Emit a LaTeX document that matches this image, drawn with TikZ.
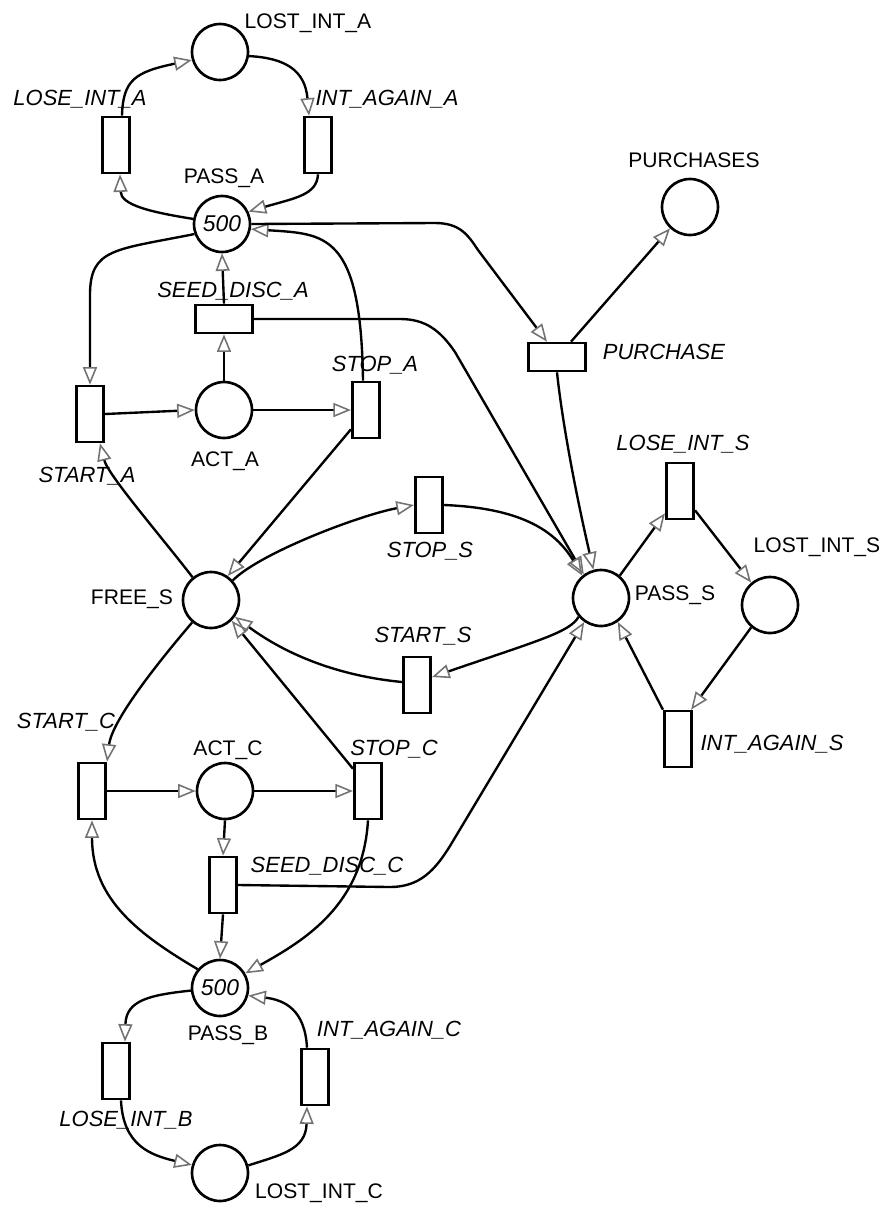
\documentclass[tikz,border=0pt]{standalone}
\usepackage{fontspec}
\setmainfont{Liberation Sans}
\usetikzlibrary{arrows.meta,calc}
\begin{document}
\begin{tikzpicture}[x=0.02cm,y=-0.02cm,
  place/.style={circle,draw,line width=1.5pt,minimum size=1.12cm,inner sep=0pt},
  vtrans/.style={rectangle,draw,line width=1.5pt,minimum width=0.55cm,minimum height=1.12cm,inner sep=0pt},
  htrans/.style={rectangle,draw,line width=1.5pt,minimum width=1.14cm,minimum height=0.56cm,inner sep=0pt},
  plab/.style={anchor=base,inner sep=0pt,font=\fontsize{12}{14}\selectfont},
  tlab/.style={anchor=base,inner sep=0pt,font=\fontsize{12.5}{14}\selectfont\itshape},
  tok/.style={font=\fontsize{13}{14}\selectfont\itshape},
  arc/.style={line width=1.35pt,-{Triangle[open,length=10pt,width=8pt,color=black!55,line width=0.9pt]}},
]
\useasboundingbox (0,0) rectangle (885,1205);
% places
\node[place] (lostA) at (220,52) {};
\node[place,tok] (passA) at (222,224) {500};
\node[place] (purchases) at (690,207) {};
\node[place] (actA) at (224,410) {};
\node[place] (freeS) at (211,600) {};
\node[place] (passS) at (601,598) {};
\node[place] (lostS) at (770,605) {};
\node[place] (actC) at (225,791) {};
\node[place,tok] (passB) at (220,988) {500};
\node[place] (lostC) at (220,1173) {};
% transitions
\node[vtrans] (loseA) at (116,145) {};
\node[vtrans] (intA) at (318,145) {};
\node[htrans] (seedA) at (224,319) {};
\node[vtrans] (startA) at (90,414) {};
\node[vtrans] (stopA) at (366,410) {};
\node[htrans] (purch) at (557,357) {};
\node[vtrans] (stopS) at (429,505) {};
\node[vtrans] (startS) at (417,685) {};
\node[vtrans] (loseS) at (680,491) {};
\node[vtrans] (intS) at (678,739) {};
\node[vtrans] (startC) at (92,791) {};
\node[vtrans] (stopC) at (368,791) {};
\node[vtrans] (seedC) at (223,885) {};
\node[vtrans] (loseB) at (116,1071) {};
\node[vtrans] (intC) at (315,1077) {};
% labels
\node[plab] (lLostA) at (308,28) {LOST\_INT\_A};
\node[plab] (lPassA) at (224,183) {PASS\_A};
\node[tlab] (lLoseA) at (80,105) {LOSE\_INT\_A};
\node[tlab] (lIntA) at (387,105) {INT\_AGAIN\_A};
\node[tlab] (lSeedA) at (233,297) {SEED\_DISC\_A};
\node[plab] (lPurchases) at (694,167) {PURCHASES};
\node[tlab] (lStopA) at (375,371) {STOP\_A};
\node[tlab] (lPurch) at (664,359) {PURCHASE};
\node[plab] (lActA) at (225,466) {ACT\_A};
\node[tlab] (lStartA) at (87,482) {START\_A};
\node[tlab] (lLoseS) at (683,450) {LOSE\_INT\_S};
\node[tlab] (lStopS) at (430,557) {STOP\_S};
\node[plab] (lLostS) at (817,552) {LOST\_INT\_S};
\node[plab] (lFreeS) at (132,604) {FREE\_S};
\node[plab] (lPassS) at (675,600) {PASS\_S};
\node[tlab] (lStartS) at (423,642) {START\_S};
\node[tlab] (lStartC) at (66,728) {START\_C};
\node[plab] (lActC) at (228,755) {ACT\_C};
\node[tlab] (lStopC) at (394,755) {STOP\_C};
\node[tlab] (lIntS) at (772,750) {INT\_AGAIN\_S};
\node[tlab] (lSeedC) at (327,872) {SEED\_DISC\_C};
\node[plab] (lPassB) at (228,1040) {PASS\_B};
\node[tlab] (lIntC) at (389,1036) {INT\_AGAIN\_C};
\node[tlab] (lLoseB) at (126,1126) {LOSE\_INT\_B};
\node[plab] (lLostC) at (319,1198) {LOST\_INT\_C};
% arcs: top loop A
\draw[arc] (passA.170) .. controls (150,212) and (121,205) .. ($(loseA.south)+(4,0)$);
\draw[arc] ($(loseA.north)+(6,0)$) .. controls (123,80) and (135,72) .. (lostA.196);
\draw[arc] (lostA.-8) .. controls (285,58) and (305,70) .. ($(intA.north)+(-9,0)$);
\draw[arc] (intA.south) .. controls (317,195) and (295,198) .. (passA.25);
% PASS_A connections
\draw[arc] (passA.200) .. controls (115,250) and (90,248) .. (90,295) -- (startA.north);
\draw[arc] (seedA.north) -- (passA.south);
\draw[arc] (actA.north) -- (seedA.south);
\draw[arc] ($(stopA.north)+(-3,0)$) .. controls (361,232) and (325,234) .. (passA.-10);
\draw[arc] (passA.east) -- (435,223) .. controls (460,223) and (468,235) .. (478,250) -- ($(purch.north)+(-10,0)$);
\draw[arc] ($(purch.north)+(14,0)$) -- (purchases.227);
\draw[arc] (purch.south) .. controls (562,420) and (575,490) .. (passS.105);
\draw[arc] (seedA.east) -- (400,319) .. controls (425,319) and (440,330) .. (455,352) -- (passS.126);
\draw[arc] (startA.east) -- (actA.west);
\draw[arc] (actA.east) -- (stopA.west);
% FREE_S connections
\draw[arc] (freeS.129) .. controls (160,535) and (108,475) .. ($(startA.south)+(10,0)$);
\draw[arc] ($(stopA.south west)+(0,-10)$) -- (freeS.55);
\draw[arc] (freeS.42) .. controls (260,553) and (360,515) .. (stopS.west);
\draw[arc] (stopS.east) .. controls (520,508) and (555,530) .. (passS.130);
\draw[arc] (passS.220) .. controls (570,632) and (540,640) .. ($(startS.east)+(0,-8)$);
\draw[arc] ($(startS.west)+(0,-3)$) .. controls (330,675) and (280,650) .. (freeS.-35);
% PASS_S loop
\draw[arc] (passS.50) -- ($(loseS.south west)+(0,-7)$);
\draw[arc] ($(loseS.south east)+(0,-10)$) -- (lostS.130);
\draw[arc] (lostS.-130) -- ($(intS.north east)+(-2,0)$);
\draw[arc] (intS.north west) -- (passS.-55);
% C part
\draw[arc] (freeS.-130) .. controls (160,660) and (112,720) .. (startC.north east);
\draw[arc] ($(stopC.north west)+(0,7)$) -- (freeS.-45);
\draw[arc] (startC.east) -- (actC.west);
\draw[arc] (actC.east) -- (stopC.west);
\draw[arc] (actC.south) -- (seedC.north);
\draw[arc] (seedC.east) -- (390,887) .. controls (420,887) and (435,870) .. (450,846) -- (passS.-125);
\draw[arc] (seedC.south) -- (passB.north);
\draw[arc] (stopC.south) .. controls (363,905) and (305,940) .. (passB.30);
\draw[arc] (passB.140) .. controls (140,935) and (92,900) .. (startC.south);
% bottom loop
\draw[arc] (passB.185) .. controls (150,995) and (126,1000) .. ($(loseB.north)+(9,0)$);
\draw[arc] ($(loseB.south)+(5,0)$) .. controls (123,1145) and (150,1155) .. (lostC.164);
\draw[arc] (lostC.15) .. controls (280,1155) and (306,1150) .. ($(intC.south)+(-8,0)$);
\draw[arc] ($(intC.north)+(-8,0)$) .. controls (305,1010) and (285,1000) .. (passB.-15);
\end{tikzpicture}
\end{document}
